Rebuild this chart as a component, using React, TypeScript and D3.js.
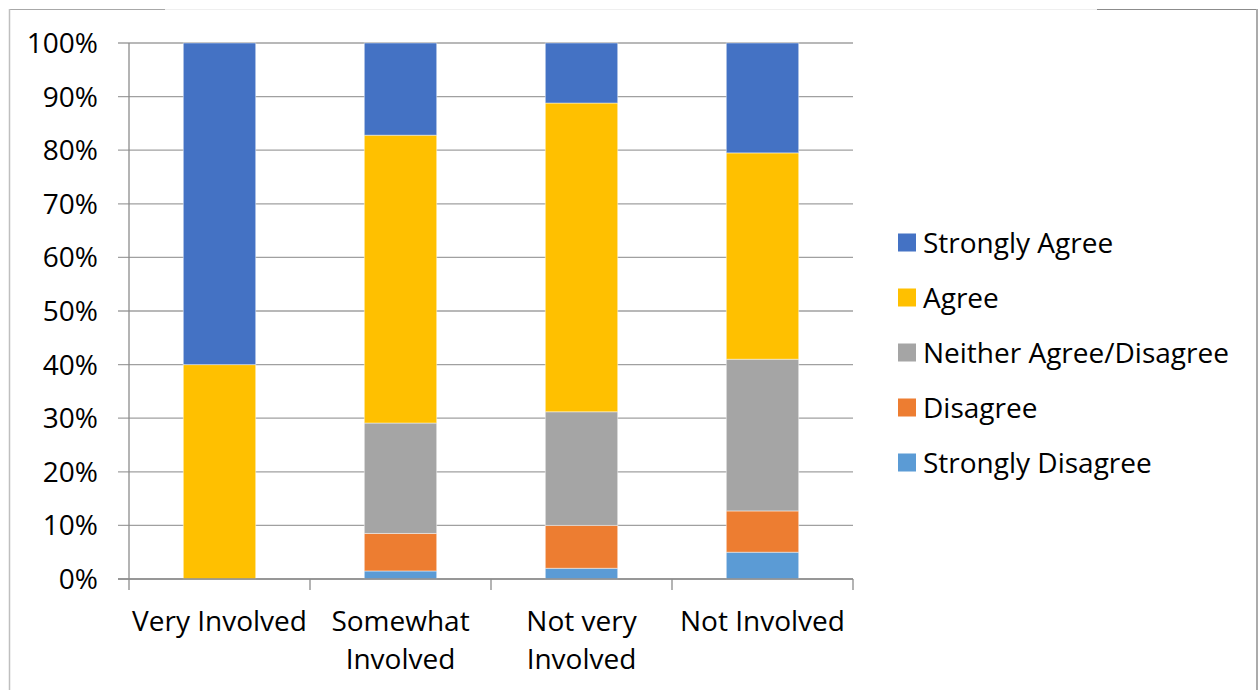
import React from "react";
import * as d3 from "d3";

const categories = ["Very Involved", "Somewhat Involved", "Not very Involved", "Not Involved"];
const categoryLines = [["Very Involved"], ["Somewhat", "Involved"], ["Not very", "Involved"], ["Not Involved"]];
const seriesNames = ["Strongly Disagree", "Disagree", "Neither Agree/Disagree", "Agree", "Strongly Agree"];
const stronglyDisagree = [0, 1.5, 2.0, 5.0];
const disagree = [0, 7.0, 8.0, 7.7];
const neither = [0, 20.6, 21.2, 28.3];
const agree = [40, 53.7, 57.6, 38.5];
const stronglyAgree = [60, 17.2, 11.2, 20.5];
const yTicks = [0, 10, 20, 30, 40, 50, 60, 70, 80, 90, 100];
const colors = ["#5B9BD5", "#ED7D31", "#A5A5A5", "#FFC000", "#4472C4"];
const legendOrder = ["Strongly Agree", "Agree", "Neither Agree/Disagree", "Disagree", "Strongly Disagree"];

const FONT = "'Open Sans', 'Noto Sans', sans-serif";
const FS = 28;

export default function App() {
  const W = 1259, H = 690;
  const x0 = 129, x1 = 853, yTop = 43, yBot = 579;
  const values = [stronglyDisagree, disagree, neither, agree, stronglyAgree];
  const rows = categories.map((c, i) => {
    const r: any = { cat: c };
    seriesNames.forEach((s, k) => (r[s] = values[k][i]));
    return r;
  });
  const stacked = d3.stack<any>().keys(seriesNames)(rows);
  const x = d3.scaleBand<string>().domain(categories).range([x0, x1]).paddingInner(0.6).paddingOuter(0.3);
  const xb = d3.scaleBand<string>().domain(categories).range([x0, x1]);
  const y = d3.scaleLinear().domain([0, 100]).range([yBot, yTop]);
  const color = d3.scaleOrdinal<string, string>().domain(seriesNames).range(colors);

  return (
    <svg width={W} height={H} style={{ position: "absolute", left: 0, top: 0, background: "#fff" }}>
      {/* frame */}
      <line x1={10} x2={1097} y1={9.5} y2={9.5} stroke="#EFEFEF" strokeWidth={1} />
      <line x1={10} x2={165} y1={9.5} y2={9.5} stroke="#A8A8A8" strokeWidth={1} />
      <line x1={1097} x2={1257} y1={9.5} y2={9.5} stroke="#8C8C8C" strokeWidth={1} />
      <line x1={9.5} x2={9.5} y1={9} y2={H} stroke="#BFBFBF" strokeWidth={1.5} />
      <line x1={1257} x2={1257} y1={9} y2={H} stroke="#ABABAB" strokeWidth={2} />

      {/* gridlines */}
      {yTicks.map((t) => (
        <g key={t}>
          <line x1={118} x2={x1} y1={y(t)} y2={y(t)} stroke="#A0A0A0" strokeWidth={1.3} />
          <text x={98} y={y(t)} dy="0.36em" textAnchor="end" fontFamily={FONT} fontSize={FS} fill="#000">
            {t}%
          </text>
        </g>
      ))}
      {/* bars */}
      {stacked.map((s) => (
        <g key={s.key} fill={color(s.key)}>
          {s.map((d, i) =>
            d[1] - d[0] > 0 ? (
              <rect
                key={i}
                x={x(categories[i])}
                width={x.bandwidth()}
                y={y(d[1])}
                height={y(d[0]) - y(d[1])}
                stroke="#ffffff"
                strokeOpacity={0.45}
                strokeWidth={1}
              />
            ) : null
          )}
        </g>
      ))}
      {/* axes */}
      <line x1={x0} x2={x0} y1={yTop} y2={yBot} stroke="#8C8C8C" strokeWidth={1.3} />
      <line x1={118} x2={x1} y1={yBot} y2={yBot} stroke="#8C8C8C" strokeWidth={1.3} />
      {categories.concat(["end"]).map((c, i) => {
        const xx = i < categories.length ? (xb(c) as number) : x1;
        return <line key={"t" + i} x1={xx} x2={xx} y1={yBot} y2={yBot + 11} stroke="#8C8C8C" strokeWidth={1.3} />;
      })}
      {categories.map((c, i) => (
        <text key={c} fontFamily={FONT} fontSize={FS} textAnchor="middle" fill="#000">
          {categoryLines[i].map((ln, k) => (
            <tspan key={k} x={(x(c) as number) + x.bandwidth() / 2} y={631 + k * 37.5}>
              {ln}
            </tspan>
          ))}
        </text>
      ))}
      {/* legend */}
      {legendOrder.map((s, i) => (
        <g key={s} transform={`translate(898, ${242.5 + i * 55})`}>
          <rect x={0} y={-9} width={18} height={18} fill={color(s)} />
          <text x={25} y={0} dy="0.36em" fontFamily={FONT} fontSize={FS} fill="#000">
            {s}
          </text>
        </g>
      ))}
    </svg>
  );
}
